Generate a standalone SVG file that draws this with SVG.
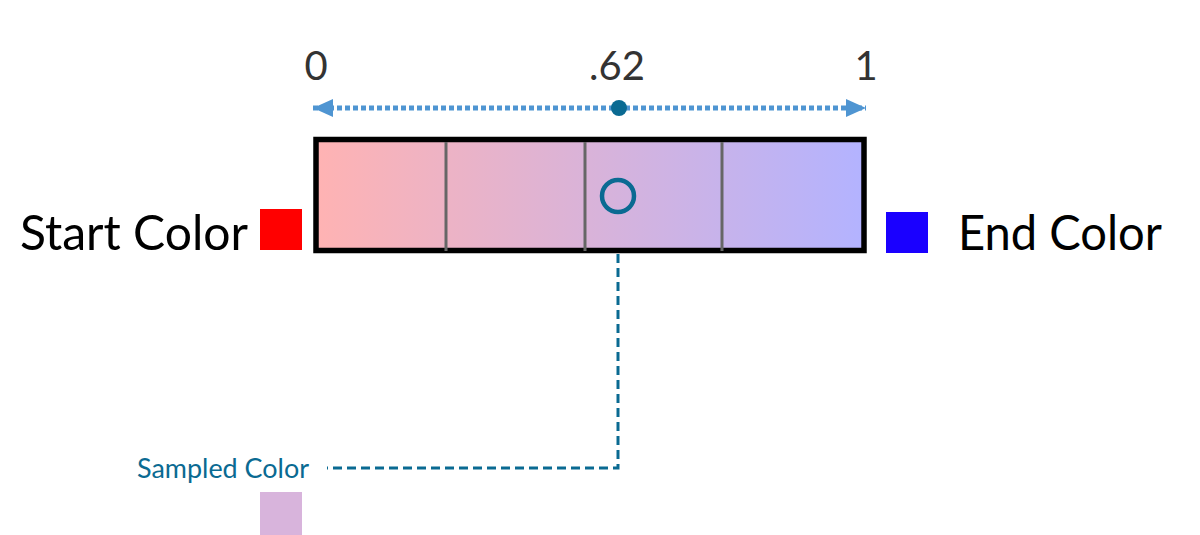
<svg xmlns="http://www.w3.org/2000/svg" width="1200" height="535" viewBox="0 0 1200 535">
<style>
.lbl{font-family:Lato,"Open Sans",sans-serif;fill:#000}
.num{font-family:Lato,"Open Sans",sans-serif;fill:#333;font-size:40px;text-anchor:middle}
.div{stroke:#666;stroke-width:3}
.lead{fill:none;stroke:#0a6a92;stroke-width:3;stroke-dasharray:9 5}
</style>
<defs>
<linearGradient id="g" x1="0" x2="1" y1="0" y2="0">
<stop offset="0" stop-color="#FFB3B3"/>
<stop offset="1" stop-color="#B3B3FF"/>
</linearGradient>
<marker id="ah" viewBox="0 0 10 10" refX="10" refY="5" markerWidth="4" markerHeight="3.6" orient="auto-start-reverse" markerUnits="strokeWidth" preserveAspectRatio="none">
<path d="M0,0 L10,5 L0,10 z" fill="#4f95d2"/>
</marker>
</defs>
<g id="scale">
<text class="num" x="316" y="80">0</text>
<text class="num" x="617" y="80">.62</text>
<text class="num" x="866" y="80">1</text>
</g>
<g id="connectors">
<line x1="313" y1="108" x2="866" y2="108" stroke="#4f95d2" stroke-width="5" stroke-dasharray="5 3" marker-start="url(#ah)" marker-end="url(#ah)"/>
<path class="lead" d="M618,212 V468 H327"/>
</g>
<g id="bar">
<rect x="316" y="139.5" width="548" height="111" fill="url(#g)" stroke="#000" stroke-width="5.5"/>
<line class="div" x1="446" y1="142" x2="446" y2="251"/>
<line class="div" x1="585" y1="142" x2="585" y2="251"/>
<line class="div" x1="722" y1="142" x2="722" y2="251"/>
</g>
<g id="marker-dot"><circle cx="619" cy="108" r="8" fill="#0a6a92"/></g>
<g id="sample-point"><circle cx="618" cy="196" r="16" fill="none" stroke="#0a6a92" stroke-width="4.5"/></g>
<g id="start-color">
<text class="lbl" x="20" y="250" font-size="48" textLength="228" lengthAdjust="spacingAndGlyphs">Start Color</text>
<rect x="260" y="209" width="42" height="41" fill="#FF0000"/>
</g>
<g id="end-color">
<rect x="886" y="212" width="42" height="41" fill="#1A00FF"/>
<text class="lbl" x="958" y="250" font-size="48" textLength="204" lengthAdjust="spacingAndGlyphs">End Color</text>
</g>
<g id="sampled-color">
<text x="137" y="478" font-family="Lato,'Open Sans',sans-serif" font-size="26" fill="#0a6a92" textLength="172" lengthAdjust="spacingAndGlyphs">Sampled Color</text>
<rect x="260" y="492" width="42" height="43" fill="#D8B4DC"/>
</g>
</svg>
